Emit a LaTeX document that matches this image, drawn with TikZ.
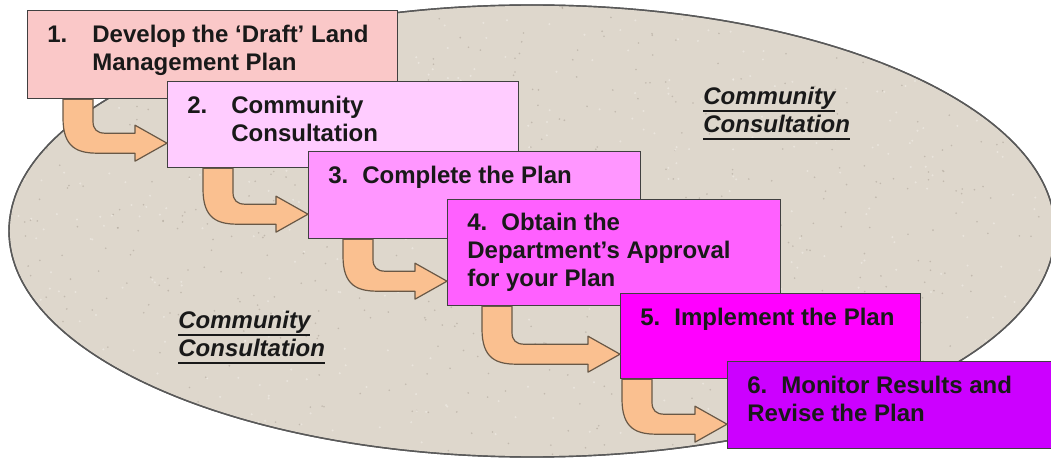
\documentclass[tikz,border=0pt]{standalone}
\usepackage{fontspec}
\setmainfont{Liberation Sans}
\usepackage{tikz}
\usetikzlibrary{calc, positioning}

\definecolor{fieldbeige}{RGB}{222,215,204}
\definecolor{speckdark}{RGB}{160,150,138}
\definecolor{specklight}{RGB}{242,238,232}
\definecolor{arrowtan}{RGB}{250,192,144}
\definecolor{arrowedge}{RGB}{105,88,70}
\definecolor{stepA}{RGB}{250,200,200}
\definecolor{stepB}{RGB}{255,204,255}
\definecolor{stepC}{RGB}{255,150,255}
\definecolor{stepD}{RGB}{255,96,255}
\definecolor{stepE}{RGB}{255,0,255}
\definecolor{stepF}{RGB}{204,0,255}

% text with a heavy rule under it
\newcommand{\ulbar}[1]{\setbox0\hbox{#1}\rlap{\raisebox{-3.6pt}{\rule{\wd0}{1pt}}}\box0}

% bent arrow from the foot of one box into the side of the next
\newcommand{\bentarrow}[3]{%
  \coordinate (top) at ([shift={(#3,0)}]#1.south west);
  \coordinate (tip) at ([shift={(0,-25)}]#2.south west);
  \coordinate (bend) at (top |- tip);
  \draw[flowarrow] (top)
    -- ([shift={(0,-25)}]bend)
    .. controls ([shift={(0,5)}]bend) and ([shift={(15,10)}]bend) .. ([shift={(35,10)}]bend)
    -- ([shift={(-32,10)}]tip) -- ([shift={(-32,18)}]tip) -- (tip)
    -- ([shift={(-32,-18)}]tip) -- ([shift={(-32,-10)}]tip)
    -- ([shift={(42,-10)}]bend)
    .. controls ([shift={(34,-10)}]bend) and ([shift={(30,-14)}]bend) .. ([shift={(30,-22)}]bend)
    -- ([shift={(30,0)}]top) -- cycle;
}

\begin{document}
\begin{tikzpicture}[
            x=0.5pt, y=-0.5pt,
                stepbox/.style = {rectangle, draw=black!75, line width=0.6pt,
                            anchor=north west, inner sep=0pt},
                steptext/.style = {anchor=base west, inner sep=0pt, align=left,
                            font=\fontsize{12}{14}\selectfont\bfseries, text=black!90},
                ccnote/.style = {anchor=base west, inner sep=0pt, align=left,
                            font=\fontsize{12}{14}\selectfont\bfseries\itshape, text=black!90},
                flowarrow/.style = {fill=arrowtan, draw=arrowedge, line width=0.6pt,
                            line join=round},
                field/.style = {fill=fieldbeige, draw=black!65, line width=0.7pt}]
            \useasboundingbox (0,0) rectangle (1051,460);

            \fill[field] (532,231) ellipse [x radius=523, y radius=226];
            \begin{scope}
                \clip (532,231) ellipse [x radius=523, y radius=226];
                \pgfmathsetseed{11}
                \foreach \i in {1,...,700}{
                    \fill[speckdark, opacity=0.45] (rnd*1051, rnd*460) circle (0.9);
                }
                \foreach \i in {1,...,500}{
                    \fill[specklight, opacity=0.6] (rnd*1051, rnd*460) circle (1.1);
                }
            \end{scope}
            \draw[field, fill=none] (532,231) ellipse [x radius=523, y radius=226];

            \node (cc1) [ccnote] at (703,133) {
                \ulbar{Community}\\
                \ulbar{Consultation}
            };
            \node (cc2) [ccnote] at (178,357) {
                \ulbar{Community}\\
                \ulbar{Consultation}
            };

            \node (1) [stepbox, fill=stepA, minimum width=185pt, minimum height=44pt] at (27,10) {};
            \node (2) [stepbox, fill=stepB, minimum width=175.5pt, minimum height=43pt] at (167,81) {};
            \node (3) [stepbox, fill=stepC, minimum width=166pt, minimum height=43.5pt] at (308,151) {};
            \node (4) [stepbox, fill=stepD, minimum width=166.5pt, minimum height=53pt] at (447,199) {};
            \node (5) [stepbox, fill=stepE, minimum width=150pt, minimum height=42.5pt] at (620,293) {};
            \node (6) [stepbox, fill=stepF, minimum width=167.5pt, minimum height=43.5pt] at (727,361) {};

            \node (t1) [steptext] at ([shift={(20,61)}]1.north west) {
                \makebox[22.5pt][l]{1.}Develop the ‘Draft’ Land\\
                \hspace*{22.5pt}Management Plan
            };
            \node (t2) [steptext] at ([shift={(20,61)}]2.north west) {
                \makebox[22pt][l]{2.}Community\\
                \hspace*{22pt}Consultation
            };
            \node (t3) [steptext] at ([shift={(20,33)}]3.north west) {
                \makebox[17pt][l]{3.}Complete the Plan
            };
            \node (t4) [steptext] at ([shift={(20,87)}]4.north west) {
                \makebox[17pt][l]{4.}Obtain the\\
                Department’s Approval\\
                for your Plan
            };
            \node (t5) [steptext] at ([shift={(20,33)}]5.north west) {
                \makebox[17pt][l]{5.}Implement the Plan
            };
            \node (t6) [steptext] at ([shift={(20,61)}]6.north west) {
                \makebox[17pt][l]{6.}Monitor Results and\\
                Revise the Plan
            };

            \bentarrow{1}{2}{36}
            \bentarrow{2}{3}{36}
            \bentarrow{3}{4}{35}
            \bentarrow{4}{5}{35}
            \bentarrow{5}{6}{2}
        \end{tikzpicture}
\end{document}
